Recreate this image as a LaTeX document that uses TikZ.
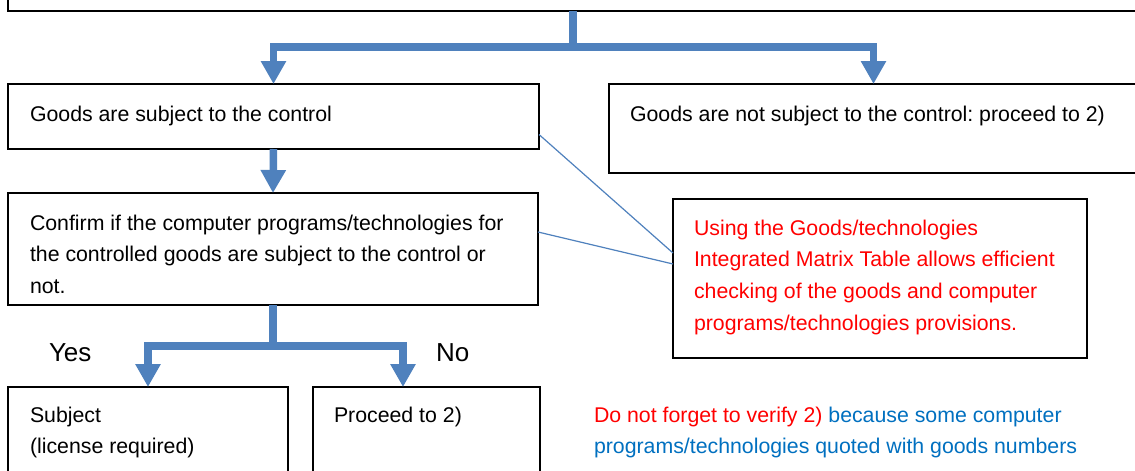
\documentclass[tikz,border=0pt]{standalone}
\usepackage{fontspec}
\setmainfont{Liberation Sans}
\usetikzlibrary{arrows.meta,calc}
\definecolor{arrowblue}{HTML}{4F81BD}
\definecolor{txtblue}{HTML}{0070C0}
\definecolor{alertred}{HTML}{FF0000}
\frenchspacing
\begin{document}
\begin{tikzpicture}[x=1pt,y=-1pt,
  box/.style={draw=black, line width=1.3pt, inner sep=0pt, outer sep=0pt, anchor=north west, fill=white},
  notebox/.style={box, line width=2.2pt},
  txt/.style={inner sep=0pt, outer sep=0pt, anchor=base west, font=\fontsize{21.3}{31.8}\selectfont},
  big/.style={txt, font=\fontsize{26}{30}\selectfont},
  flow/.style={draw=arrowblue, line width=7.5pt, -{Triangle[width=24pt,length=23pt]}},
  trunk/.style={draw=arrowblue, line width=7.5pt},
  note/.style={draw=arrowblue, line width=1.2pt}]
\useasboundingbox (0,0) rectangle (1135,471);
\clip (0,0) rectangle (1135,471);
\fill[white] (0,0) rectangle (1135,471);

% boxes
\node[box, minimum width=1130pt, minimum height=60pt, anchor=south west] (top) at (8,11) {};
\node[box, minimum width=531pt, minimum height=65pt] (g1) at (8,84) {};
\node[box, minimum width=529pt, minimum height=89pt] (g0) at (609,84) {};
\node[box, minimum width=530pt, minimum height=112pt] (g2) at (8,193) {};
\node[notebox, minimum width=414pt, minimum height=159pt] (tip) at (673,199) {};
\node[box, minimum width=280pt, minimum height=120pt] (sub) at (8,387) {};
\node[box, minimum width=227pt, minimum height=120pt] (proc) at (313,387) {};

% texts
\node[txt] (t1) at (30,121.5) {Goods are subject to the control};
\node[txt] (t0) at (630,121.5) {Goods are not subject to the control: proceed to 2)};
\node[txt] (t2) at (30,230) {\vtop{\hbox{Confirm if the computer programs/technologies for}\hbox{the controlled goods are subject to the control or}\hbox{not.}}};
\node[txt, text=alertred] (t3) at (694,235) {\vtop{\hbox{Using the Goods/technologies}\hbox{Integrated Matrix Table allows efficient}\hbox{checking of the goods and computer}\hbox{programs/technologies provisions.}}};
\node[txt] (t4) at (594,422) {\vtop{\hbox{\textcolor{alertred}{Do not forget to verify 2)} \textcolor{txtblue}{because some computer}}\hbox{\textcolor{txtblue}{programs/technologies quoted with goods numbers}}}};
\node[txt] (t5) at (30,422) {\vtop{\hbox{Subject}\hbox{(license required)}}};
\node[txt] (t6) at (334,422) {Proceed to 2)};
\node[big] (yes) at (49,361) {Yes};
\node[big] (no) at (436,361) {No};

% flow connectors
\coordinate (j1) at (573,47);
\draw[trunk] (j1 |- top.south) -- (j1);
\draw[flow] (j1) -| (g1.north);
\draw[flow] (j1) -| (g0.north);
\draw[flow] (g1.south) -- (g2.north);
\coordinate (j2) at (273,346);
\draw[trunk] (g2.south) -- (j2);
\draw[flow] (j2) -| (sub.north);
\draw[flow] (j2) -| ([xshift=90pt]proc.north west);

% note connectors
\draw[note] ([yshift=-18pt]g1.east) -- ([yshift=25.5pt]tip.west);
\draw[note] ([yshift=17pt]g2.east) -- ([yshift=14.5pt]tip.west);
\end{tikzpicture}
\end{document}
